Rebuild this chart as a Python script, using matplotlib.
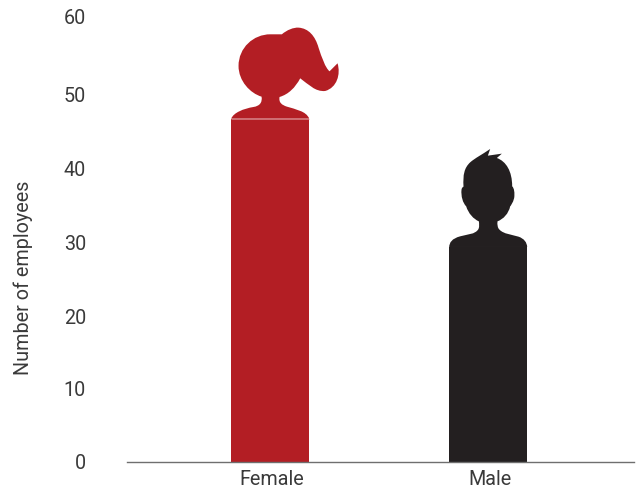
import matplotlib
matplotlib.use("Agg")
import matplotlib.pyplot as plt
from matplotlib.path import Path
from matplotlib.patches import PathPatch
from matplotlib.transforms import Affine2D, ScaledTranslation

plt.rcParams["font.family"] = ["Roboto", "DejaVu Sans"]

genders = ["Female", "Male"]
employees = [46.4, 29.1]
bar_colors = ["#b31e24", "#231f20"]
y_ticks = [0, 10, 20, 30, 40, 50, 60]
tick_nudge_px = [-1, 0, 2, 2, 3, 2, -1]
TEXT = "#3a3a3a"


def curve_path(start, segments):
    # start point plus cubic segments (3 points each) or single line-to points
    verts, codes = [start], [Path.MOVETO]
    for seg in segments:
        if len(seg) == 3:
            verts += list(seg)
            codes += [Path.CURVE4] * 3
        else:
            verts += list(seg)
            codes += [Path.LINETO]
    verts.append(start)
    codes.append(Path.CLOSEPOLY)
    return Path(verts, codes)


# head outlines, x right / y down in third-of-a-pixel units
female_head = curve_path((33, 298), [
    ((40, 280), (70, 268), (100, 263)),
    ((118, 260), (127, 250), (124, 232)),
    ((90, 222), (55, 185), (55, 140)),
    ((55, 85), (100, 45), (150, 45)),
    ((165, 45), (175, 45), (185, 45)),
    ((200, 32), (220, 24), (235, 25)),
    ((265, 27), (285, 50), (295, 85)),
    ((305, 115), (315, 145), (328, 156)),
    ((352, 132),),
    ((362, 165), (350, 205), (315, 215)),
    ((285, 218), (265, 195), (240, 177)),
    ((225, 205), (205, 225), (178, 233)),
    ((175, 250), (185, 257), (200, 262)),
    ((225, 270), (258, 275), (267, 298)),
])
male_head = curve_path((27, 322), [
    ((28, 308), (35, 297), (60, 290)),
    ((80, 284), (105, 285), (115, 268)),
    ((118, 260), (117, 252), (116, 245)),
    ((100, 238), (85, 222), (78, 200)),
    ((68, 190), (62, 170), (64, 150)),
    ((65, 145), (67, 142), (70, 141)),
    ((68, 105), (72, 85), (90, 68)),
    ((105, 55), (125, 45), (150, 28)),
    ((143, 48),),
    ((185, 42),),
    ((170, 55),),
    ((198, 65), (216, 95), (216, 140)),
    ((222, 145), (224, 160), (222, 175)),
    ((218, 190), (212, 198), (210, 200)),
    ((205, 222), (190, 238), (172, 245)),
    ((171, 255), (172, 265), (178, 270)),
    ((190, 283), (215, 285), (235, 291)),
    ((252, 297), (260, 308), (261, 322)),
])
# (centre x, bar-top y) of each outline in its own units
anchors = [(150, 298), (144, 321)]

fig = plt.figure(figsize=(6.43, 4.9), dpi=100)
ax = fig.add_axes([127 / 643, 28 / 490, 507 / 643, 444 / 490])
ax.set_xlim(-0.657, 1.669)
ax.set_ylim(0, 60)

x = range(len(genders))
ax.bar(x, employees, width=0.358, color=bar_colors, zorder=2)

for i, head in enumerate([female_head, male_head]):
    top = ax.transData.transform((i, employees[i]))
    cx, cy = anchors[i]
    tr = Affine2D().translate(-cx, -cy).scale(1 / 3, -1 / 3).translate(*top)
    ax.add_patch(PathPatch(head, facecolor=bar_colors[i], edgecolor="none",
                           transform=tr, zorder=3, clip_on=False))

# thin pale seam where the red head meets its bar
ax.plot([-0.179, 0.179], [employees[0], employees[0]], color="#dc8f92", lw=0.5, zorder=4,
        solid_capstyle="butt")

for side in ["top", "right", "left"]:
    ax.spines[side].set_visible(False)
ax.spines["bottom"].set_color("#6f6f6f")
ax.spines["bottom"].set_linewidth(1.0)

ax.set_xticks(list(x), genders)
ax.set_yticks(y_ticks)
ax.tick_params(axis="x", length=0, pad=6, labelsize=14.2, labelcolor=TEXT)
ax.tick_params(axis="y", length=0, pad=29.5, labelsize=14.2, labelcolor=TEXT)
for label in ax.get_xticklabels():
    label.set_transform(label.get_transform() + ScaledTranslation(2 / 100, 0, fig.dpi_scale_trans))
for label, nudge in zip(ax.get_yticklabels(), tick_nudge_px):
    label.set_transform(label.get_transform() + ScaledTranslation(0, -nudge / 100, fig.dpi_scale_trans))

fig.text(23 / 643, 1 - 278 / 490, "Number of employees", rotation=90, ha="center", va="center",
         fontsize=14.2, color=TEXT)

fig.savefig("out.png", dpi=100)
plt.close(fig)
